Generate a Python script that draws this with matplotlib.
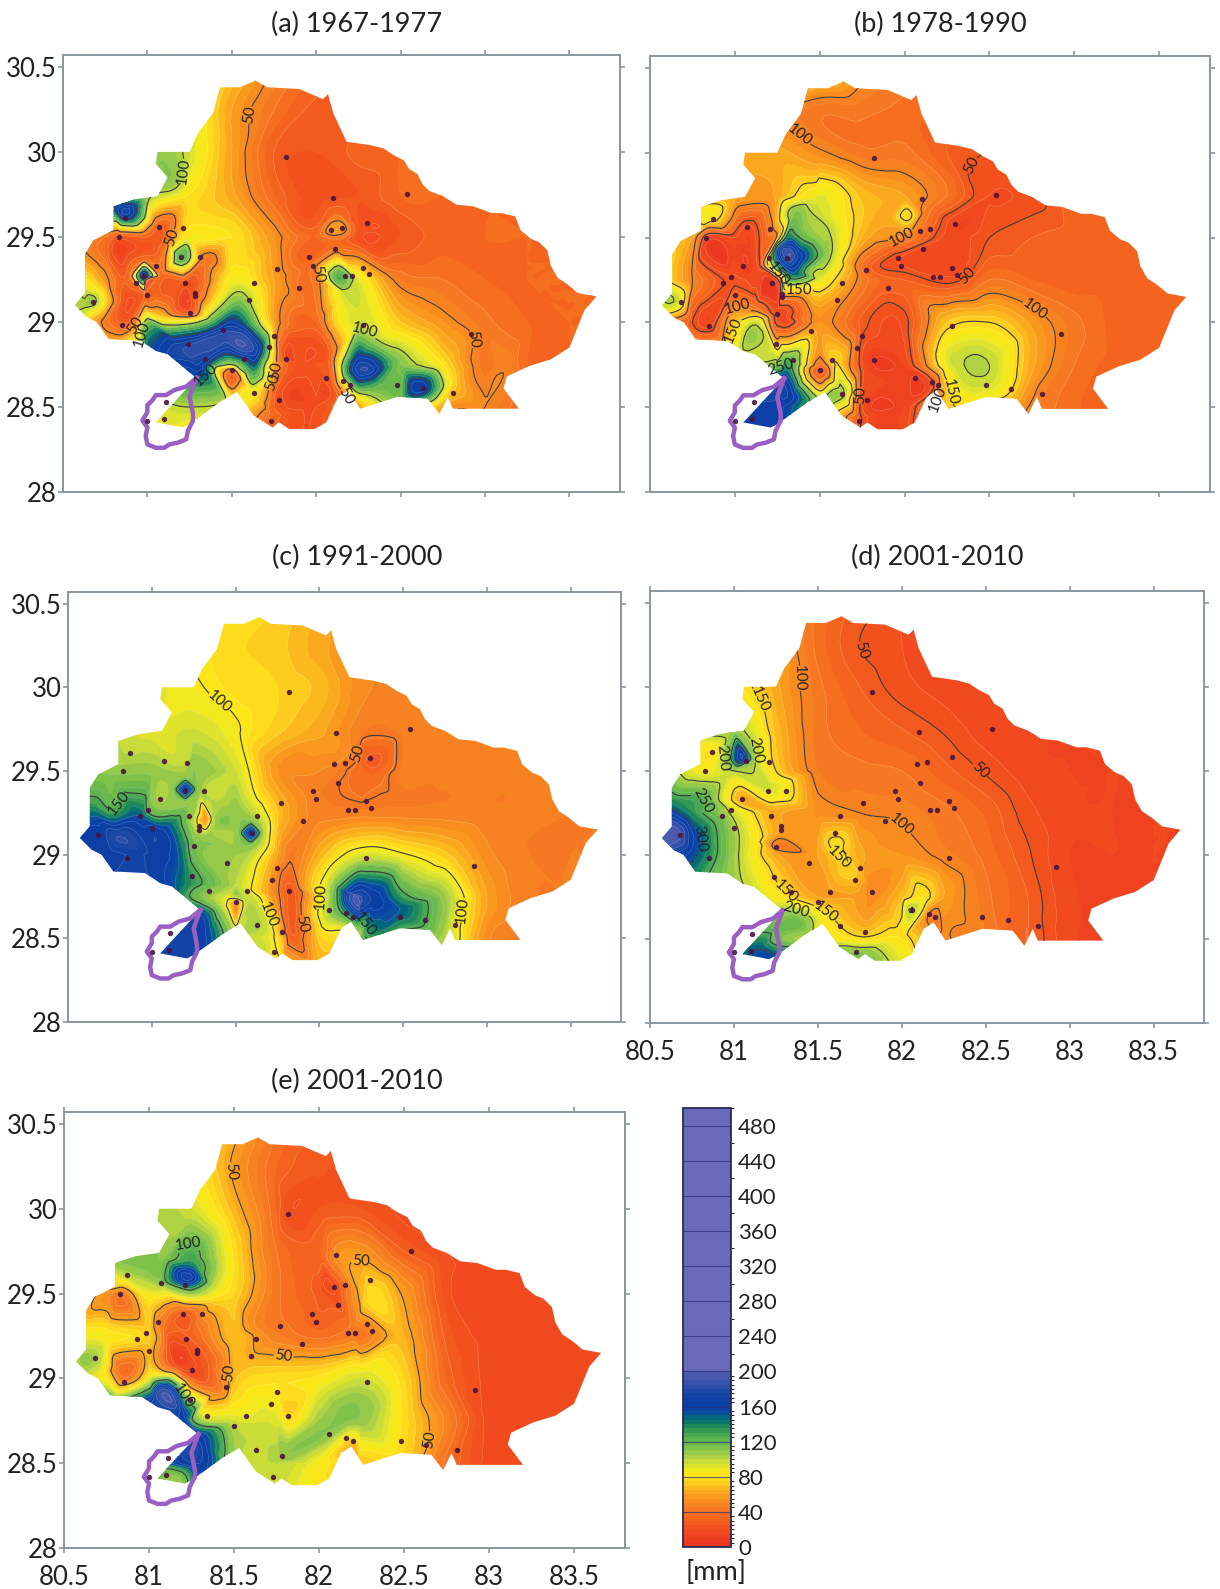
#!/usr/bin/env python
import numpy as np
import matplotlib
matplotlib.use('Agg')
import matplotlib.pyplot as plt
import matplotlib.tri as mtri
from matplotlib.cm import ScalarMappable
from matplotlib.colors import ListedColormap, BoundaryNorm, to_rgb
from matplotlib.patches import Polygon

plt.rcParams['font.family'] = ['Lato', 'DejaVu Sans']

W, H = 1220, 1589

# basin outline, lon/lat
basin_lon = [81.43, 81.55, 81.64, 81.71, 81.90, 82.04, 82.07, 82.10, 82.18, 82.32, 82.40, 82.46, 82.52, 82.55, 82.60,
             82.63, 82.67, 82.75, 82.83, 82.93, 83.04, 83.10, 83.18, 83.21, 83.27, 83.32, 83.37, 83.39, 83.43, 83.49,
             83.55, 83.66, 83.59, 83.50, 83.39, 83.26, 83.13, 83.11, 83.20,
             82.81, 82.78, 82.73, 82.66, 82.48, 82.26, 82.19, 82.13, 82.06, 81.99, 81.84, 81.78, 81.74, 81.63,
             81.53, 81.43, 81.32, 81.25, 81.21, 81.05, 81.29, 81.12, 81.05, 80.96, 80.77, 80.70, 80.64, 80.57,
             80.63, 80.63, 80.68, 80.80, 80.80, 80.92, 81.06, 81.12, 81.05, 81.06, 81.25, 81.30, 81.39]
basin_lat = [30.38, 30.38, 30.42, 30.38, 30.37, 30.31, 30.34, 30.23, 30.06, 30.04, 30.02, 29.98, 29.95, 29.90, 29.87,
             29.81, 29.77, 29.74, 29.69, 29.68, 29.64, 29.64, 29.62, 29.54, 29.49, 29.47, 29.42, 29.33, 29.26, 29.22,
             29.17, 29.15, 29.07, 28.85, 28.78, 28.74, 28.68, 28.61, 28.49,
             28.49, 28.56, 28.46, 28.55, 28.56, 28.49, 28.60, 28.56, 28.41, 28.37, 28.37, 28.41, 28.38, 28.45,
             28.59, 28.53, 28.45, 28.40, 28.38, 28.41, 28.67, 28.81, 28.83, 28.89, 28.90, 29.00, 29.03, 29.10,
             29.17, 29.40, 29.48, 29.54, 29.68, 29.72, 29.74, 29.85, 29.93, 30.00, 30.00, 30.11, 30.23]

# purple loop at the south west corner
loop_lon = [81.29, 81.23, 81.16, 81.11, 81.05, 81.03, 81.00, 81.00, 80.97, 81.00, 80.99, 81.00, 81.05, 81.10, 81.13,
            81.18, 81.23, 81.24, 81.27, 81.27, 81.25, 81.29]
loop_lat = [28.67, 28.62, 28.60, 28.57, 28.57, 28.54, 28.51, 28.47, 28.42, 28.38, 28.33, 28.28, 28.26, 28.26, 28.28,
            28.29, 28.31, 28.36, 28.42, 28.46, 28.56, 28.67]

# rain gauge stations
station_lon = [81.82, 82.10, 82.54, 82.30, 81.07, 81.21, 82.09, 82.15, 80.83, 82.11, 81.96, 81.98, 81.20, 81.31,
               81.05, 81.77, 82.28, 82.31, 82.17, 82.21, 80.98, 80.93, 81.22, 81.63, 81.90, 81.00, 81.28, 81.28,
               80.68, 81.60, 81.25, 82.28, 80.85, 82.92, 81.75, 81.82, 81.50, 82.06, 82.16, 82.20, 82.48, 82.63,
               82.81, 81.63, 81.78, 81.11, 81.10, 81.73, 81.00, 81.57, 81.34, 81.24, 80.87, 81.45, 81.72]
station_lat = [29.97, 29.73, 29.75, 29.58, 29.56, 29.55, 29.54, 29.55, 29.50, 29.43, 29.38, 29.33, 29.38, 29.38,
               29.33, 29.31, 29.32, 29.28, 29.27, 29.27, 29.27, 29.23, 29.23, 29.23, 29.20, 29.16, 29.17, 29.15,
               29.12, 29.13, 29.05, 28.98, 28.98, 28.93, 28.92, 28.78, 28.72, 28.67, 28.65, 28.63, 28.63, 28.61,
               28.58, 28.58, 28.54, 28.53, 28.43, 28.42, 28.42, 28.78, 28.78, 28.87, 29.61, 28.95, 28.85]

net_lon = [80.5, 80.75, 81, 81.25, 81.5, 81.75, 82, 82.25, 82.5, 82.75, 83, 83.25, 83.5, 83.75]
net_lat = [30.5, 30.25, 30, 29.75, 29.5, 29.25, 29, 28.75, 28.5, 28.25]

a_net = [[95, 95, 95, 90, 70, 50, 35, 30, 28, 30, 32, 32, 32, 32],
         [95, 95, 95, 90, 60, 40, 28, 28, 30, 32, 32, 32, 32, 32],
         [105, 105, 105, 95, 60, 30, 25, 32, 35, 35, 35, 35, 35, 35],
         [140, 140, 105, 80, 62, 35, 22, 25, 35, 35, 35, 35, 35, 35],
         [60, 40, 30, 85, 80, 55, 35, 22, 25, 33, 35, 35, 35, 35],
         [90, 55, 45, 25, 85, 60, 45, 90, 45, 40, 35, 35, 35, 35],
         [100, 45, 110, 90, 160, 60, 35, 95, 70, 55, 42, 35, 35, 35],
         [120, 100, 150, 165, 100, 60, 25, 172, 110, 80, 42, 35, 35, 35],
         [90, 90, 90, 100, 90, 30, 20, 60, 110, 60, 50, 35, 35, 35],
         [80, 90, 90, 70, 30, 20, 20, 60, 60, 60, 45, 40, 35, 35]]
a_spots = [(80.87, 29.64, 175), (80.80, 29.68, 150), (80.83, 29.50, 25), (81.07, 29.56, 30), (81.11, 29.48, 35),
           (81.20, 29.38, 125), (81.21, 29.48, 85), (81.34, 29.38, 45), (81.10, 29.38, 45),
           (80.98, 29.27, 170), (80.90, 29.27, 40), (81.08, 29.27, 35),
           (80.98, 29.37, 35), (80.98, 29.16, 30), (80.88, 29.13, 20), (80.92, 29.03, 30), (80.68, 29.12, 105),
           (80.63, 29.20, 90), (80.62, 29.08, 100), (81.22, 29.23, 25), (81.30, 29.15, 35), (81.25, 29.05, 30),
           (81.06, 29.03, 75), (81.20, 28.85, 178), (81.46, 28.93, 182), (81.64, 28.83, 175), (81.30, 28.75, 170),
           (81.50, 28.72, 45), (81.39, 29.01, 120), (81.57, 29.17, 100), (81.63, 28.68, 120), (81.62, 28.58, 85),
           (81.85, 28.93, 28), (81.90, 28.74, 22), (81.74, 28.44, 35), (81.90, 28.95, 30), (82.05, 28.85, 25),
           (81.80, 28.80, 25), (81.78, 28.60, 25), (82.10, 28.60, 25), (82.08, 28.80, 30),
           (82.12, 29.00, 75), (82.09, 29.54, 58), (82.15, 29.55, 58), (82.12, 29.66, 32), (82.12, 29.46, 35),
           (82.00, 29.56, 30), (82.25, 29.56, 25), (81.97, 29.36, 35), (82.13, 29.26, 125),
           (82.16, 29.17, 95), (82.62, 28.61, 168), (82.50, 28.77, 110), (82.37, 28.89, 100), (82.25, 28.72, 178),
           (82.35, 28.60, 115), (82.92, 28.93, 50), (83.11, 28.70, 50), (82.81, 28.64, 75), (81.10, 29.95, 110),
           (81.15, 29.80, 105)]
a_labels = [(81.57, 30.22), (81.20, 29.89), (81.11, 29.50), (82.02, 29.28), (82.97, 28.90), (82.27, 28.93),
            (81.37, 28.69), (81.75, 28.72), (81.76, 28.64), (82.17, 28.56), (80.93, 28.98), (81.01, 28.93)]

b_net = [[100, 100, 100, 100, 80, 55, 45, 45, 40, 35, 35, 35, 35, 35],
         [50, 50, 50, 50, 42, 42, 38, 35, 32, 30, 30, 30, 30, 30],
         [65, 65, 65, 62, 52, 42, 42, 30, 25, 30, 30, 30, 30, 30],
         [60, 60, 62, 62, 90, 68, 60, 40, 20, 22, 33, 33, 33, 33],
         [60, 60, 20, 55, 105, 65, 48, 18, 25, 30, 32, 33, 33, 33],
         [85, 50, 22, 20, 90, 45, 30, 22, 40, 35, 32, 33, 33, 33],
         [60, 25, 70, 20, 55, 28, 22, 70, 75, 58, 42, 33, 32, 32],
         [100, 100, 100, 110, 40, 20, 15, 90, 100, 62, 40, 33, 32, 32],
         [160, 160, 160, 165, 110, 20, 15, 70, 70, 48, 36, 32, 32, 32],
         [165, 165, 165, 165, 90, 20, 15, 50, 55, 45, 38, 33, 30, 30]]
b_spots = [(81.315, 29.39, 190), (81.38, 29.38, 165), (81.27, 29.44, 165), (81.31, 29.48, 150), (81.32, 29.30, 150),
           (81.35, 29.65, 110), (81.45, 29.65, 100), (81.40, 29.52, 115), (81.38, 29.50, 125), (81.55, 29.40, 105),
           (81.45, 29.30, 105), (81.47, 29.74, 88), (81.55, 29.55, 100), (81.62, 29.60, 85),
           (81.18, 29.34, 60), (81.14, 29.34, 22), (81.21, 29.55, 45), (80.86, 29.62, 85), (81.07, 29.56, 18),
           (80.83, 29.50, 17), (80.64, 29.12, 100), (80.85, 28.98, 18), (81.25, 29.05, 18), (81.14, 29.01, 90),
           (81.11, 29.08, 45), (81.31, 28.75, 130), (81.29, 28.66, 165), (81.33, 28.58, 165), (81.50, 28.72, 25),
           (81.63, 28.59, 105), (81.59, 28.77, 75), (81.72, 28.42, 30), (81.90, 28.64, 15), (82.16, 28.64, 20),
           (82.24, 28.64, 70), (82.35, 28.75, 100), (82.49, 28.63, 95), (82.31, 29.58, 15), (81.97, 29.38, 20),
           (82.31, 29.28, 20), (81.77, 29.32, 35), (81.68, 29.13, 45), (82.82, 28.58, 45), (82.03, 29.63, 78),
           (81.90, 29.60, 62), (82.12, 29.65, 45)]
b_labels = [(81.44, 30.15), (82.50, 29.88), (81.99, 29.49), (81.26, 29.29), (81.38, 29.20), (82.34, 29.30),
            (82.77, 29.08), (81.01, 29.11), (80.97, 28.96), (81.77, 28.57), (82.27, 28.59), (82.18, 28.56),
            (81.29, 28.72)]

c_net = [[85, 85, 85, 85, 80, 75, 65, 55, 50, 45, 45, 45, 45, 45],
         [85, 85, 85, 82, 76, 72, 62, 55, 48, 45, 45, 45, 45, 45],
         [95, 95, 92, 85, 78, 75, 68, 52, 47, 46, 45, 45, 45, 45],
         [105, 100, 92, 95, 85, 72, 62, 46, 46, 46, 45, 45, 45, 45],
         [115, 108, 108, 110, 95, 55, 50, 36, 46, 46, 46, 46, 45, 45],
         [130, 130, 120, 105, 108, 70, 47, 47, 47, 47, 46, 46, 45, 45],
         [170, 168, 168, 118, 105, 60, 65, 92, 85, 72, 52, 45, 45, 45],
         [172, 172, 172, 120, 100, 45, 80, 180, 130, 105, 60, 46, 45, 45],
         [172, 172, 172, 170, 105, 78, 72, 115, 115, 100, 52, 44, 44, 44],
         [170, 170, 170, 170, 110, 100, 70, 90, 100, 90, 50, 44, 44, 44]]
c_spots = [(81.20, 29.39, 170), (81.12, 29.39, 108), (81.28, 29.39, 108), (81.20, 29.47, 108), (81.20, 29.31, 108),
           (81.32, 29.21, 55), (81.22, 29.28, 110), (81.38, 29.20, 105), (81.32, 29.10, 108), (81.25, 29.17, 100),
           (81.59, 29.13, 170), (81.51, 29.13, 108), (81.67, 29.13, 100), (81.59, 29.05, 108), (81.59, 29.21, 108),
           (80.80, 29.11, 180), (80.66, 29.23, 150), (80.64, 29.31, 130), (80.93, 29.23, 150), (81.06, 29.13, 165),
           (81.16, 28.99, 150), (81.20, 28.83, 140), (81.30, 28.63, 160), (81.34, 28.53, 155), (81.45, 28.74, 88),
           (81.50, 28.72, 60), (81.42, 28.68, 100), (81.58, 28.72, 100), (81.50, 28.82, 100),
           (81.82, 29.01, 45), (81.84, 28.79, 28), (81.83, 28.53, 30), (81.70, 28.57, 92),
           (81.92, 28.81, 60), (82.22, 28.74, 195), (82.34, 28.74, 165), (82.48, 28.67, 150), (82.12, 28.67, 125),
           (82.03, 28.63, 95), (82.30, 29.55, 28), (82.33, 29.45, 38), (82.17, 29.60, 50), (81.97, 29.35, 47),
           (82.81, 28.59, 90), (82.23, 28.51, 95), (82.07, 28.83, 100)]
c_labels = [(81.36, 29.86), (82.25, 29.60), (80.85, 29.29), (81.69, 28.64), (81.90, 28.59), (82.00, 28.75),
            (82.31, 28.60), (82.79, 28.68)]

d_net = [[60, 60, 60, 50, 38, 28, 20, 18, 16, 15, 15, 15, 15, 15],
         [70, 70, 70, 60, 38, 25, 20, 17, 16, 15, 15, 15, 15, 15],
         [85, 85, 82, 62, 42, 30, 22, 18, 16, 15, 15, 15, 15, 15],
         [120, 110, 105, 68, 43, 35, 30, 24, 17, 15, 15, 15, 15, 15],
         [125, 90, 100, 75, 45, 42, 40, 32, 24, 17, 15, 15, 15, 15],
         [170, 135, 95, 62, 54, 50, 48, 42, 34, 22, 16, 15, 15, 15],
         [180, 155, 105, 62, 60, 62, 55, 47, 38, 26, 15, 15, 15, 15],
         [150, 130, 110, 85, 60, 58, 68, 60, 42, 30, 16, 15, 15, 15],
         [140, 140, 130, 115, 95, 78, 80, 52, 45, 30, 16, 15, 15, 15],
         [140, 140, 140, 130, 110, 100, 95, 55, 45, 30, 16, 15, 15, 15]]
d_spots = [(80.66, 29.13, 195), (80.76, 29.11, 160), (80.62, 29.31, 140), (80.81, 29.33, 125), (81.05, 29.57, 170),
           (80.96, 29.57, 110), (81.13, 29.57, 100), (80.87, 29.61, 80), (80.84, 29.51, 85), (81.09, 29.97, 78),
           (81.17, 29.87, 76), (81.05, 29.33, 62), (81.21, 29.39, 95), (81.28, 29.15, 60), (81.25, 29.05, 45),
           (81.12, 29.09, 85), (81.60, 29.07, 78), (81.71, 28.89, 72), (82.07, 28.68, 100), (82.15, 28.75, 78),
           (82.17, 28.65, 48), (81.76, 28.42, 110), (81.15, 28.44, 150), (81.21, 28.38, 160), (81.24, 28.56, 120),
           (81.82, 28.79, 52), (81.40, 28.60, 115), (81.55, 28.66, 75), (82.74, 28.50, 30)]
d_labels = [(81.69, 30.20), (81.37, 30.05), (81.17, 29.93), (80.90, 29.58), (81.16, 29.63), (80.84, 29.33),
            (80.82, 29.10), (82.45, 29.49), (82.03, 29.21), (81.57, 28.94), (81.28, 28.75), (81.57, 28.69),
            (81.34, 28.59)]

e_net = [[90, 90, 90, 85, 65, 42, 30, 25, 20, 18, 18, 18, 18, 18],
         [95, 95, 95, 85, 58, 35, 26, 24, 20, 18, 18, 18, 18, 18],
         [105, 105, 105, 95, 66, 34, 25, 25, 18, 18, 18, 18, 18, 18],
         [115, 115, 115, 125, 78, 40, 34, 55, 30, 20, 18, 18, 18, 18],
         [85, 55, 88, 105, 75, 42, 28, 66, 58, 22, 18, 18, 18, 18],
         [85, 85, 72, 32, 68, 46, 38, 42, 65, 28, 18, 18, 18, 18],
         [100, 80, 85, 30, 68, 78, 82, 95, 75, 34, 18, 18, 18, 18],
         [180, 180, 170, 125, 95, 92, 105, 108, 78, 48, 18, 18, 18, 18],
         [140, 140, 130, 170, 105, 100, 85, 72, 72, 38, 18, 18, 18, 18],
         [120, 120, 120, 120, 100, 95, 85, 70, 60, 35, 18, 18, 18, 18]]
e_spots = [(81.23, 29.59, 175), (81.26, 29.69, 130), (81.09, 29.71, 110), (81.38, 29.56, 100), (81.40, 29.46, 75),
           (80.83, 29.49, 40), (80.85, 29.01, 38), (80.68, 29.11, 105), (80.87, 29.61, 100), (81.06, 29.56, 105),
           (81.21, 29.38, 30), (81.16, 29.08, 18), (81.26, 29.05, 20), (81.35, 29.08, 30), (81.40, 28.93, 45),
           (81.09, 29.32, 40), (81.09, 28.93, 185), (81.01, 28.85, 170), (81.21, 28.77, 160), (81.30, 28.65, 165),
           (81.30, 28.50, 170), (81.02, 29.01, 90), (81.18, 28.44, 115), (82.07, 29.54, 18), (82.19, 29.28, 42),
           (82.12, 29.71, 55), (82.30, 29.48, 78), (81.81, 29.97, 22), (82.18, 28.77, 112), (82.05, 28.66, 108),
           (82.19, 28.60, 65), (81.80, 28.54, 108), (81.82, 28.78, 75), (81.62, 29.32, 50)]
e_labels = [(81.46, 30.22), (81.14, 29.96), (82.24, 29.71), (81.80, 29.17), (81.48, 29.03), (81.21, 28.90),
            (82.69, 28.63)]

titles = ['(a) 1967-1977', '(b) 1978-1990', '(c) 1991-2000', '(d) 2001-2010', '(e) 2001-2010']
x_ticks = [81, 81.5, 82, 82.5, 83, 83.5]
x_tick_labels = ['81', '81.5', '82', '82.5', '83', '83.5']
y_ticks = [28, 28.5, 29, 29.5, 30, 30.5]
y_tick_labels = ['28', '28.5', '29', '29.5', '30', '30.5']
cbar_ticks = [0, 40, 80, 120, 160, 200, 240, 280, 320, 360, 400, 440, 480]

band_colors = ['#eb371e', '#f0461e', '#f3551e', '#f5691e', '#f77d23', '#f8911e', '#faaf1e', '#fcd71e', '#fceb19',
               '#d7e132', '#a0cd46', '#73be4b', '#55af50', '#289155', '#006e6e', '#0a46aa', '#0a3ca5', '#1446a5',
               '#3250aa', '#4b5aaf']

# finer bands than the colour bar steps, the reference is blurred so they melt together
low_levels = np.arange(0, 205, 5.0)
rgb = np.array([to_rgb(c) for c in band_colors])
mids = (low_levels[:-1] + low_levels[1:]) / 2
fine = np.c_[[np.interp(mids, np.arange(5, 205, 10), rgb[:, i]) for i in range(3)]].T
levels = list(low_levels) + list(range(220, 520, 20))
cmap = ListedColormap([tuple(c) for c in fine] + ['#6969b9'] * 15)
norm = BoundaryNorm(levels, cmap.N)

AX_COLOR = '#8b969d'
TEXT_COLOR = '#222222'


def axes_at(fig, x0, y0, x1, y1):
    return fig.add_axes([x0 / W, 1 - y1 / H, (x1 - x0) / W, (y1 - y0) / H])


def panel(ax, net, spots, labels, line_levels, scale=1, left=False, bottom=False):
    lon, lat = np.meshgrid(net_lon, net_lat)
    s = np.array(spots)
    x = np.r_[lon.ravel(), s[:, 0]]
    y = np.r_[lat.ravel(), s[:, 1]]
    z = np.r_[np.array(net, dtype=float).ravel(), s[:, 2]]

    tri = mtri.Triangulation(x, y)
    # geom rings less than min_E around the sharp spots
    interp = mtri.CubicTriInterpolator(tri, z, kind='geom')
    refiner = mtri.UniformTriRefiner(tri)
    tri2, z2 = refiner.refine_field(z, triinterpolator=interp, subdiv=3)
    z2 = np.clip(z2, 0.5, 499)

    outline = Polygon(np.c_[basin_lon, basin_lat], closed=True, transform=ax.transData)

    fill = ax.tricontourf(tri2, z2, levels=levels, cmap=cmap, norm=norm)
    fill.set_clip_path(outline)
    pale = ax.tricontour(tri2, z2, levels=np.arange(10, 200, 10), colors='white', linewidths=0.4, alpha=0.25)
    pale.set_clip_path(outline)

    # the colours do not sit on the same mm value in every panel, so the lines get a scale
    lv = [v / scale for v in line_levels]
    cs = ax.tricontour(tri2, z2, levels=lv, colors='#3c3c3c', linewidths=0.8)
    cs.set_clip_path(outline)
    ax.clabel(cs, fmt={v / scale: str(v) for v in line_levels}, fontsize=11, colors='#222222',
              manual=labels, inline=True, inline_spacing=1)

    ax.plot(loop_lon, loop_lat, color='#9a5fc2', lw=3.2, solid_joinstyle='round')
    ax.scatter(station_lon, station_lat, s=15, color='#4a1440', alpha=0.9, linewidths=0, zorder=5)

    ax.set_xlim(80.5, 83.8)
    ax.set_ylim(28, 30.57)
    ax.set_xticks(x_ticks)
    ax.set_yticks(y_ticks)
    ax.set_xticklabels(x_tick_labels if bottom else [])
    ax.set_yticklabels(y_tick_labels if left else [])
    ax.tick_params(axis='both', which='both', direction='out', length=3.5, width=1.2, color=AX_COLOR,
                   top=True, right=True, labelsize=18.5, labelcolor=TEXT_COLOR, pad=1)
    ax.tick_params(axis='x', pad=9)
    for sp in ax.spines.values():
        sp.set_color(AX_COLOR)
        sp.set_linewidth(1.4)


def main():
    fig = plt.figure(figsize=(W / 100, H / 100), dpi=100)

    ax_a = axes_at(fig, 63, 55, 620, 492)
    ax_b = axes_at(fig, 650, 56, 1210, 492)
    ax_c = axes_at(fig, 68, 592, 621, 1022)
    ax_d = axes_at(fig, 650, 591, 1204, 1023)
    ax_e = axes_at(fig, 64, 1112, 625, 1548)

    panel(ax_a, a_net, a_spots, a_labels, [50, 100, 150], left=True)
    panel(ax_b, b_net, b_spots, b_labels, [50, 100, 150, 200, 250], scale=2)
    panel(ax_c, c_net, c_spots, c_labels, [50, 100, 150], scale=1.2, left=True)
    panel(ax_d, d_net, d_spots, d_labels, [50, 100, 150, 200, 250, 300], scale=2, bottom=True)
    panel(ax_e, e_net, e_spots, e_labels, [50, 100], scale=0.83, left=True, bottom=True)

    # 80.5 is only labelled on the x axes that have labels
    for ax in [ax_d, ax_e]:
        ax.set_xticks([80.5] + x_ticks, ['80.5'] + x_tick_labels)

    title_pos = [(357, 24), (940, 24), (357, 557), (937, 557), (357, 1081)]
    for t, (px, py) in zip(titles, title_pos):
        fig.text(px / W, 1 - py / H, t, ha='center', va='center', fontsize=19.5, color=TEXT_COLOR)

    # colour bar
    cax = axes_at(fig, 683, 1108, 731, 1547)
    sm = ScalarMappable(norm=norm, cmap=cmap)
    cb = fig.colorbar(sm, cax=cax, ticks=cbar_ticks, spacing='proportional', drawedges=False)
    cb.ax.set_yticklabels([str(v) for v in cbar_ticks])
    cb.ax.tick_params(length=0, labelsize=16, labelcolor=TEXT_COLOR, pad=5)
    cb.ax.hlines(cbar_ticks[1:], 0, 1, transform=cb.ax.get_yaxis_transform(), color='#2c2c7a', lw=0.8, alpha=0.7)
    cb.outline.set_edgecolor('#2a2a55')
    cb.outline.set_linewidth(1.3)
    fig.text(716 / W, 1 - 1573 / H, '[mm]', ha='center', va='center', fontsize=19.5, color=TEXT_COLOR)

    fig.savefig('out.png', dpi=100)


if __name__ == "__main__":
    main()
